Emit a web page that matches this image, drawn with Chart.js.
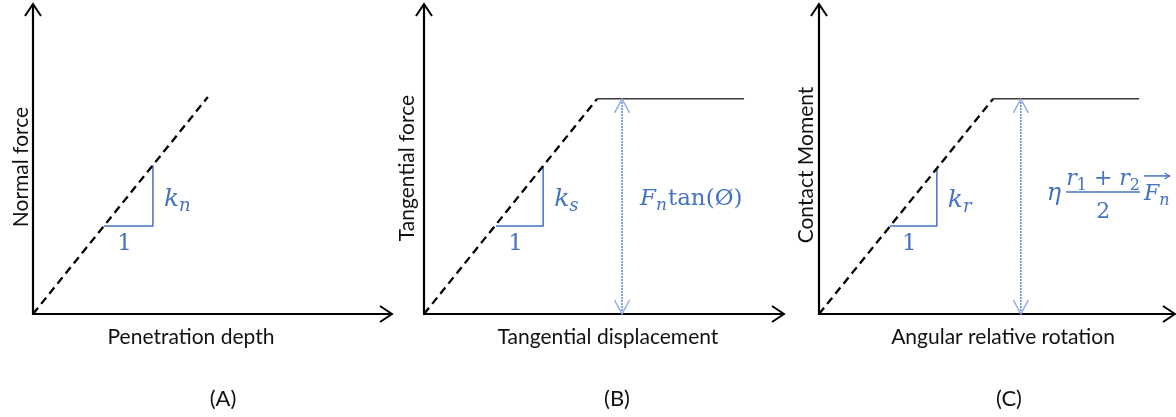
<!DOCTYPE html>
<html>
<head>
<meta charset="utf-8">
<script src="https://cdn.jsdelivr.net/npm/chart.js@4.4.0/dist/chart.umd.min.js"></script>
<style>
  html, body { margin: 0; padding: 0; background: #fff; }
  #wrap { position: relative; width: 1176px; height: 417px; overflow: hidden; }
  #wrap canvas { position: absolute; top: 0; }
</style>
</head>
<body>
<div id="wrap">
  <canvas id="panelA" width="396" height="417" style="left:0px"></canvas>
  <canvas id="panelB" width="396" height="417" style="left:390px"></canvas>
  <canvas id="panelC" width="396" height="417" style="left:780px"></canvas>
</div>
<script>
// Contact laws: normal, tangential (sliding) and rolling resistance
const panelLabels = ['(A)', '(B)', '(C)'];
const xTitles = ['Penetration depth', 'Tangential displacement', 'Angular relative rotation'];
const yTitles = ['Normal force', 'Tangential force', 'Contact Moment'];

// elastic branch goes from the origin to the peak
const peakX = [4.87, 4.81, 4.89];
const peakY = [7.0, 6.94, 6.94];
// plastic plateau end and the limit-value arrow (no limit for the normal law)
const plateauEndX = [null, 8.89, 8.99];
const limitArrowX = [null, 5.5, 5.67];
// slope triangle: x of left corner / right leg, y of base / top
const slopeX = [[1.98, 3.34], [2.0, 3.31], [1.99, 3.31]];
const slopeY = [[2.84, 4.8], [2.84, 4.77], [2.84, 4.70]];
const stiffnessSub = ['n', 's', 'r'];

const BLUE = '#4472C4';
const LIGHT_BLUE = '#8EA9DB';
const MATH = '"DejaVu Serif", serif';
const SANS = 'Lato, sans-serif';
const MATH_SIZE = 22;

// per canvas placement of the plot area and the titles
const panels = [
  { id: 'panelA', padLeft: 33, padRight: 4, xTitleX: 4.40, yTitleDx: -5, yTitleY: 167, captionDx: 190 },
  { id: 'panelB', padLeft: 34, padRight: 2, xTitleX: 5.11, yTitleDx: -10, yTitleY: 168, captionDx: 193 },
  { id: 'panelC', padLeft: 39, padRight: 1, xTitleX: 5.17, yTitleDx: -6, yTitleY: 165, captionDx: 190 }
];

function chevron(ctx, tipX, tipY, dirX, dirY, len, half, color, width) {
  const px = -dirY, py = dirX;
  ctx.save();
  ctx.strokeStyle = color;
  ctx.lineWidth = width;
  ctx.lineJoin = 'miter';
  ctx.beginPath();
  ctx.moveTo(tipX - dirX * len + px * half, tipY - dirY * len + py * half);
  ctx.lineTo(tipX, tipY);
  ctx.lineTo(tipX - dirX * len - px * half, tipY - dirY * len - py * half);
  ctx.stroke();
  ctx.restore();
}

// italic symbol with a smaller italic/upright subscript, returns end x
function symbolWithSub(ctx, sym, sub, x, y, size, subItalic) {
  ctx.font = 'italic ' + size + 'px ' + MATH;
  ctx.fillText(sym, x, y);
  x += ctx.measureText(sym).width;
  ctx.font = (subItalic ? 'italic ' : '') + Math.round(size * 0.72) + 'px ' + MATH;
  ctx.fillText(sub, x, y + 5);
  return x + ctx.measureText(sub).width;
}

function diagramPlugin(i) {
  const cfg = panels[i];
  return {
    id: 'diagram' + i,
    beforeDatasetsDraw(chart) {
      const ctx = chart.ctx;
      const xs = chart.scales.x, ys = chart.scales.y;
      const x0 = xs.getPixelForValue(0), y0 = ys.getPixelForValue(0);
      const xEnd = xs.getPixelForValue(xs.max), yEnd = ys.getPixelForValue(ys.max);

      // axes with open arrow heads
      ctx.save();
      ctx.strokeStyle = '#000';
      ctx.lineWidth = 2.2;
      ctx.beginPath();
      ctx.moveTo(x0, yEnd);
      ctx.lineTo(x0, y0);
      ctx.lineTo(xEnd, y0);
      ctx.stroke();
      ctx.restore();
      chevron(ctx, x0, yEnd, 0, -1, 12, 8, '#000', 2);
      chevron(ctx, xEnd, y0, 1, 0, 12, 8, '#000', 2);

      // axis titles and caption
      ctx.save();
      ctx.fillStyle = '#111';
      ctx.font = '21px ' + SANS;
      ctx.textAlign = 'center';
      ctx.textBaseline = 'alphabetic';
      ctx.fillText(xTitles[i], xs.getPixelForValue(cfg.xTitleX), y0 + 30);
      ctx.save();
      ctx.translate(x0 + cfg.yTitleDx, cfg.yTitleY);
      ctx.rotate(-Math.PI / 2);
      ctx.fillText(yTitles[i], 0, 0);
      ctx.restore();
      ctx.font = '22px ' + SANS;
      ctx.textBaseline = 'middle';
      ctx.fillText(panelLabels[i], x0 + cfg.captionDx, 399);
      ctx.restore();
    },
    afterDatasetsDraw(chart) {
      const ctx = chart.ctx;
      const xs = chart.scales.x, ys = chart.scales.y;

      ctx.save();
      ctx.fillStyle = BLUE;
      ctx.textBaseline = 'alphabetic';

      // slope triangle labels
      const legX = xs.getPixelForValue(slopeX[i][1]);
      const leftX = xs.getPixelForValue(slopeX[i][0]);
      const baseY = ys.getPixelForValue(slopeY[i][0]);
      const topY = ys.getPixelForValue(slopeY[i][1]);
      symbolWithSub(ctx, 'k', stiffnessSub[i], legX + 11, (baseY + topY) / 2 + 10, 25, true);
      ctx.font = '23px ' + MATH;
      ctx.textAlign = 'center';
      ctx.fillText('1', (leftX + legX) / 2 - 4, baseY + 24);
      ctx.textAlign = 'left';

      // limit arrow heads and the limit expression
      const limIdx = chart.data.datasets.findIndex(d => d.label === 'limit');
      if (limIdx >= 0) {
        const pts = chart.getDatasetMeta(limIdx).data;
        const bottom = pts[0], top = pts[1];
        chevron(ctx, bottom.x, bottom.y, 0, 1, 14, 7.5, LIGHT_BLUE, 1.4);
        chevron(ctx, top.x, top.y, 0, -1, 14, 7.5, LIGHT_BLUE, 1.4);
        const mid = (bottom.y + top.y) / 2;

        if (i === 1) {
          let x = symbolWithSub(ctx, 'F', 'n', top.x + 18, mid - 1, 23, true);
          ctx.font = '23px ' + MATH;
          ctx.fillText('tan(Ø)', x + 1, mid - 1);
        } else if (i === 2) {
          let x = top.x + 26;
          ctx.font = 'italic 24px ' + MATH;
          ctx.fillText('η', x, mid - 6);
          // fraction (r1 + r2) / 2
          const fx = x + ctx.measureText('η').width + 5;
          let nx = symbolWithSub(ctx, 'r', '1', fx, mid - 21.5, MATH_SIZE, false);
          ctx.font = MATH_SIZE + 'px ' + MATH;
          ctx.fillText(' + ', nx, mid - 21.5);
          nx += ctx.measureText(' + ').width;
          nx = symbolWithSub(ctx, 'r', '2', nx, mid - 21.5, MATH_SIZE, false);
          ctx.strokeStyle = BLUE;
          ctx.lineWidth = 1.5;
          ctx.beginPath();
          ctx.moveTo(fx, mid - 14.5);
          ctx.lineTo(nx, mid - 14.5);
          ctx.stroke();
          ctx.font = MATH_SIZE + 'px ' + MATH;
          ctx.textAlign = 'center';
          ctx.fillText('2', (fx + nx) / 2, mid + 11.5);
          ctx.textAlign = 'left';
          // force vector F_n
          const vx = nx + 4;
          const vEnd = symbolWithSub(ctx, 'F', 'n', vx, mid - 6.5, MATH_SIZE, true);
          ctx.beginPath();
          ctx.moveTo(vx, mid - 30.5);
          ctx.lineTo(vEnd, mid - 30.5);
          ctx.stroke();
          chevron(ctx, vEnd, mid - 30.5, 1, 0, 5, 3, BLUE, 1.2);
        }
      }
      ctx.restore();
    }
  };
}

function buildDatasets(i) {
  const sets = [];
  sets.push({
    label: 'elastic',
    data: [{ x: 0, y: 0 }, { x: peakX[i], y: peakY[i] }],
    borderColor: '#000', borderWidth: 2.3, borderDash: [8, 5]
  });
  if (plateauEndX[i] !== null) {
    sets.push({
      label: 'plateau',
      data: [{ x: peakX[i], y: peakY[i] }, { x: plateauEndX[i], y: peakY[i] }],
      borderColor: '#3a3a3a', borderWidth: 1.5
    });
  }
  sets.push({
    label: 'slope',
    data: [
      { x: slopeX[i][0], y: slopeY[i][0] },
      { x: slopeX[i][1], y: slopeY[i][0] },
      { x: slopeX[i][1], y: slopeY[i][1] }
    ],
    borderColor: BLUE, borderWidth: 1.5
  });
  if (limitArrowX[i] !== null) {
    sets.push({
      label: 'limit',
      data: [{ x: limitArrowX[i], y: 0 }, { x: limitArrowX[i], y: peakY[i] }],
      borderColor: BLUE, borderWidth: 1.3, borderDash: [2, 1]
    });
  }
  sets.forEach(s => {
    s.showLine = true;
    s.pointRadius = 0;
    s.fill = false;
    s.clip = false;
  });
  return sets;
}

panels.forEach((p, i) => {
  new Chart(document.getElementById(p.id), {
    type: 'scatter',
    data: { datasets: buildDatasets(i) },
    options: {
      responsive: false,
      animation: false,
      layout: { padding: { left: p.padLeft, right: p.padRight, top: 4, bottom: 103 } },
      scales: {
        x: { type: 'linear', min: 0, max: 10, display: false },
        y: { type: 'linear', min: 0, max: 10, display: false }
      },
      plugins: { legend: { display: false }, tooltip: { enabled: false } },
      events: []
    },
    plugins: [diagramPlugin(i)]
  });
});
</script>
</body>
</html>
